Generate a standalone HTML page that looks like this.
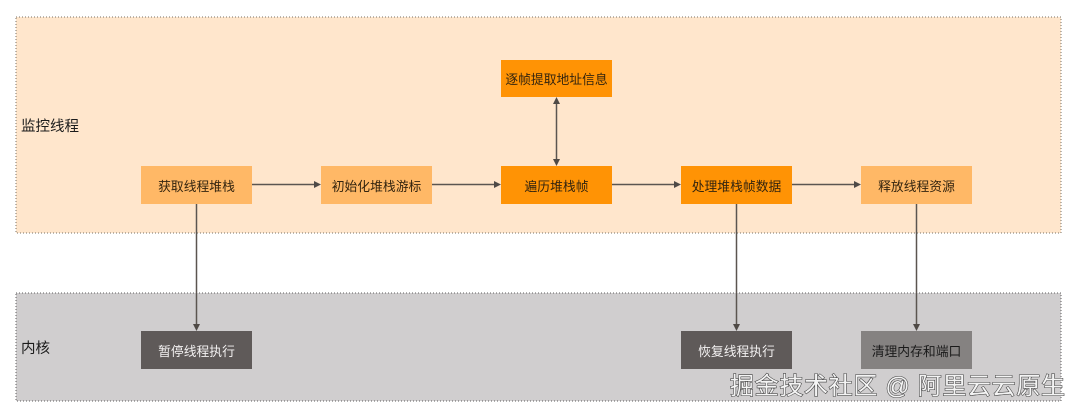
<!DOCTYPE html>
<html lang="zh">
<head>
<meta charset="utf-8">
<style>
html,body{margin:0;padding:0;background:#fff;width:1080px;height:416px;overflow:hidden}
svg{display:block;filter:blur(.35px)}
text{font-family:"Liberation Sans","Noto Sans CJK SC",sans-serif}
.b{font-size:12.800px;text-anchor:middle;fill:#33240f}
.w{font-size:12.800px;text-anchor:middle;fill:#f4f2f2}
.l{font-size:14.500px;fill:#1c1c1c}
.c{stroke:#5b5550;stroke-width:1.500;fill:none}
.a{fill:#4f4a46}
</style>
</head>
<body>
<svg width="1080" height="416" viewBox="0 0 1080 416" xmlns="http://www.w3.org/2000/svg">
<rect x="16" y="17" width="1045" height="216" fill="#ffe6cc"/>
<rect x="16" y="17" width="1045" height="216" fill="none" stroke="#7a7266" stroke-width="1" stroke-dasharray="1 2"/>
<rect x="16" y="293" width="1045" height="108" fill="#d0cecf"/>
<rect x="16" y="293" width="1045" height="108" fill="none" stroke="#5f5f5f" stroke-width="1" stroke-dasharray="1 2"/>

<text class="l" x="21" y="131">监控线程</text>
<text class="l" x="21" y="353">内核</text>

<!-- connectors -->
<path class="c" d="M252 184.500H316M432 184.500H496M612 184.500H676M792 184.500H856"/>
<path class="c" d="M556.500 103V160"/>
<path class="c" d="M196.500 204V325M736.500 204V325M916.500 204V325"/>
<path class="a" d="M321 184.500l-7-3.500v7zM501 184.500l-7-3.500v7zM681 184.500l-7-3.500v7zM861 184.500l-7-3.500v7z"/>
<path class="a" d="M556.500 97l-3.500 7h7zM556.500 166l-3.500-7h7z"/>
<path class="a" d="M196.500 331l-3.500-7h7zM736.500 331l-3.500-7h7zM916.500 331l-3.500-7h7z"/>

<!-- top nodes -->
<rect x="501" y="60" width="111" height="37" fill="#ff9305"/>
<text class="b" x="556.500" y="84">逐帧提取地址信息</text>
<rect x="141" y="166" width="111" height="38" fill="#ffb866"/>
<text class="b" x="196.500" y="191">获取线程堆栈</text>
<rect x="321" y="166" width="111" height="38" fill="#ffb866"/>
<text class="b" x="376.500" y="191">初始化堆栈游标</text>
<rect x="501" y="166" width="111" height="38" fill="#ff9305"/>
<text class="b" x="556.500" y="191">遍历堆栈帧</text>
<rect x="681" y="166" width="111" height="38" fill="#ff9305"/>
<text class="b" x="736.500" y="191">处理堆栈帧数据</text>
<rect x="861" y="166" width="111" height="38" fill="#ffb866"/>
<text class="b" x="916.500" y="191">释放线程资源</text>

<!-- bottom nodes -->
<rect x="141" y="331" width="111" height="38" fill="#5f5a59"/>
<text class="w" x="196.500" y="356">暂停线程执行</text>
<rect x="681" y="331" width="111" height="38" fill="#5f5a59"/>
<text class="w" x="736.500" y="356">恢复线程执行</text>
<rect x="861" y="331" width="111" height="38" fill="#858281"/>
<text class="b" x="916.500" y="356" style="fill:#1a1a1a">清理内存和端口</text>

<!-- watermark -->
<text x="730" y="394" font-size="24" textLength="335" lengthAdjust="spacing" fill="#f4f4f4" stroke="#3c3c3c" stroke-width="1.100" paint-order="stroke">掘金技术社区 @ 阿里云云原生</text>
</svg>
</body>
</html>
